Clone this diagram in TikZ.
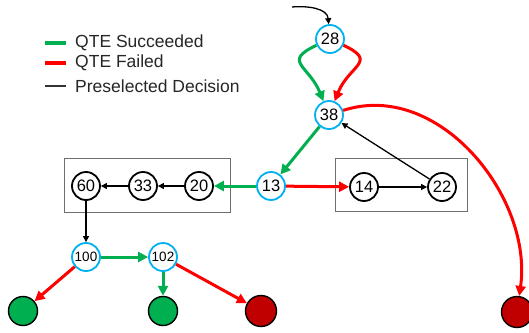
\documentclass[tikz,border=0pt]{standalone}
\usepackage{fontspec}
\setmainfont{Liberation Sans}
\usetikzlibrary{arrows.meta}
\definecolor{qgreen}{HTML}{00B050}
\definecolor{qred}{HTML}{FF0000}
\definecolor{qdark}{HTML}{C00000}
\definecolor{qblue}{HTML}{00B0F0}
\definecolor{boxgray}{HTML}{6E6E6E}
\begin{document}
\begin{tikzpicture}[x=1pt,y=-1pt,
  qte/.style={circle,draw=qblue,line width=1.8pt,fill=white,minimum size=28pt,inner sep=0pt,font=\fontsize{16.5}{16.5}\selectfont},
  qtesmall/.style={qte,font=\fontsize{13.5}{13.5}\selectfont},
  fixed/.style={circle,draw=black,line width=1.8pt,fill=white,minimum size=28pt,inner sep=0pt,font=\fontsize{16.5}{16.5}\selectfont},
  endok/.style={circle,draw=black,line width=1.4pt,fill=qgreen,minimum size=29pt,inner sep=0pt},
  endbad/.style={circle,draw=black,line width=1.4pt,fill=qdark,minimum size=31pt,inner sep=0pt},
  okarrow/.style={draw=qgreen,line width=3pt,-{Triangle[length=10pt,width=10pt]}},
  failarrow/.style={draw=qred,line width=3pt,-{Triangle[length=10pt,width=10pt]}},
  prearrow/.style={draw=black,line width=1.3pt,-{Triangle[length=6pt,width=6pt]}},
  group/.style={draw=boxgray,line width=1pt},
  legendtext/.style={anchor=west,inner sep=0pt,font=\fontsize{17.5}{17.5}\selectfont,text=black!85}
]
\useasboundingbox (0,0) rectangle (529,332);

% legend
\draw[qgreen,line width=3.5pt] (45,43) -- (66,43);
\draw[qred,line width=3.5pt] (45,63) -- (66,63);
\draw[black!80,line width=2.5pt] (45,86) -- (66,86);
\node[legendtext] (lg1) at (75,43) {QTE Succeeded};
\node[legendtext] (lg2) at (75,63) {QTE Failed};
\node[legendtext] (lg3) at (75,86) {Preselected Decision};

% grouping boxes
\draw[group] (64,158) rectangle (230,212);
\draw[group] (335,158) rectangle (467,211);

% decision points
\node[qte] (n28) at (330,39) {28};
\node[qte] (n38) at (329,115) {38};
\node[qte] (n13) at (271,186) {13};
\node[fixed] (n20) at (199,186) {20};
\node[fixed] (n33) at (143,186) {33};
\node[fixed] (n60) at (86,186) {60};
\node[fixed] (n14) at (364,187) {14};
\node[fixed] (n22) at (442,187) {22};
\node[qtesmall] (n100) at (86,257) {100};
\node[qtesmall] (n102) at (163,257) {102};

% endings
\node[endok] (e1) at (23,311) {};
\node[endok] (e2) at (163,311) {};
\node[endbad] (e3) at (261,311) {};
\node[endbad] (e4) at (517,312) {};

% entry
\coordinate (start) at (292,7);
\draw[prearrow] (start) to[out=5,in=95] (n28);

% transitions
\draw[okarrow] (n28) to[out=205,in=112,looseness=1.75] (n38);
\draw[failarrow] (n28) to[out=-25,in=68,looseness=1.75] (n38);
\draw[okarrow] (n38) -- (n13);
\draw[failarrow] (n38) to[out=18,in=82,looseness=1.0] (e4);
\draw[prearrow] (n22) -- (n38);
\draw[okarrow] (n13) -- (n20);
\draw[failarrow] (n13) -- (n14);
\draw[prearrow] (n14) -- (n22);
\draw[prearrow] (n20) -- (n33);
\draw[prearrow] (n33) -- (n60);
\draw[prearrow] (n60) -- (n100);
\draw[okarrow] (n100) -- (n102);
\draw[failarrow] (n100) -- (e1);
\draw[okarrow] (n102) -- (e2);
\draw[failarrow] (n102) -- (e3);
\end{tikzpicture}
\end{document}
